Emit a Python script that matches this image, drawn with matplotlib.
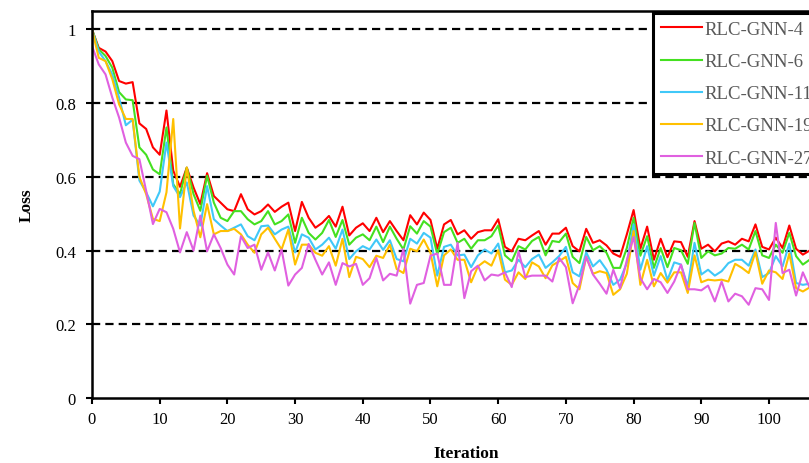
import numpy as np
import matplotlib
matplotlib.use("Agg")
import matplotlib.pyplot as plt

# Loss values, iterations 0..106
rlc_gnn_4 = [1.0, 0.95, 0.94, 0.914, 0.86, 0.853, 0.857, 0.745, 0.73, 0.68,
             0.66, 0.78, 0.617, 0.573, 0.625, 0.571, 0.526, 0.61, 0.548, 0.53,
             0.512, 0.507, 0.553, 0.512, 0.498, 0.507, 0.525, 0.505, 0.519, 0.53,
             0.453, 0.532, 0.489, 0.462, 0.475, 0.494, 0.465, 0.519, 0.441, 0.462,
             0.474, 0.453, 0.489, 0.45, 0.48, 0.453, 0.428, 0.496, 0.471, 0.503,
             0.483, 0.405, 0.471, 0.483, 0.444, 0.455, 0.432, 0.45, 0.455, 0.455,
             0.485, 0.41, 0.398, 0.432, 0.428, 0.441, 0.453, 0.416, 0.446, 0.446,
             0.462, 0.412, 0.398, 0.459, 0.421, 0.428, 0.414, 0.392, 0.383, 0.444,
             0.51, 0.405, 0.465, 0.375, 0.432, 0.382, 0.425, 0.423, 0.383, 0.48,
             0.405, 0.416, 0.398, 0.419, 0.425, 0.416, 0.432, 0.425, 0.471, 0.41,
             0.403, 0.435, 0.407, 0.468, 0.405, 0.389, 0.40]
rlc_gnn_6 = [1.0, 0.946, 0.928, 0.896, 0.83, 0.81, 0.808, 0.68, 0.66, 0.62,
             0.607, 0.734, 0.58, 0.553, 0.625, 0.553, 0.508, 0.603, 0.53, 0.489,
             0.48, 0.507, 0.507, 0.485, 0.471, 0.48, 0.507, 0.471, 0.48, 0.498,
             0.421, 0.489, 0.448, 0.43, 0.448, 0.483, 0.437, 0.483, 0.416, 0.435,
             0.444, 0.428, 0.465, 0.423, 0.465, 0.432, 0.403, 0.466, 0.446, 0.48,
             0.465, 0.39, 0.45, 0.462, 0.421, 0.432, 0.405, 0.428, 0.428, 0.439,
             0.468, 0.387, 0.371, 0.412, 0.403, 0.426, 0.437, 0.387, 0.426, 0.423,
             0.446, 0.383, 0.366, 0.437, 0.401, 0.412, 0.394, 0.353, 0.353, 0.407,
             0.489, 0.386, 0.439, 0.353, 0.407, 0.355, 0.407, 0.401, 0.364, 0.475,
             0.38, 0.398, 0.387, 0.392, 0.407, 0.405, 0.416, 0.403, 0.453, 0.387,
             0.38, 0.416, 0.394, 0.448, 0.385, 0.362, 0.375]
rlc_gnn_11 = [1.0, 0.94, 0.914, 0.878, 0.815, 0.74, 0.755, 0.59, 0.558, 0.52,
              0.56, 0.693, 0.575, 0.545, 0.585, 0.495, 0.468, 0.575, 0.485, 0.468,
              0.453, 0.462, 0.471, 0.439, 0.428, 0.466, 0.468, 0.444, 0.457, 0.465,
              0.395, 0.444, 0.435, 0.403, 0.416, 0.435, 0.405, 0.457, 0.377, 0.398,
              0.412, 0.403, 0.43, 0.402, 0.428, 0.377, 0.371, 0.432, 0.419, 0.448,
              0.435, 0.332, 0.41, 0.416, 0.387, 0.389, 0.355, 0.387, 0.403, 0.392,
              0.419, 0.341, 0.346, 0.375, 0.355, 0.377, 0.389, 0.353, 0.368, 0.385,
              0.41, 0.341, 0.33, 0.395, 0.357, 0.374, 0.348, 0.307, 0.321, 0.366,
              0.471, 0.348, 0.412, 0.332, 0.385, 0.32, 0.368, 0.362, 0.303, 0.421,
              0.335, 0.348, 0.332, 0.344, 0.366, 0.375, 0.375, 0.359, 0.403, 0.328,
              0.339, 0.385, 0.357, 0.419, 0.312, 0.307, 0.31]
rlc_gnn_19 = [1.0, 0.923, 0.914, 0.865, 0.797, 0.757, 0.757, 0.6, 0.553, 0.486,
              0.48, 0.558, 0.757, 0.46, 0.625, 0.508, 0.436, 0.526, 0.444, 0.453,
              0.453, 0.459, 0.444, 0.416, 0.394, 0.444, 0.462, 0.432, 0.403, 0.457,
              0.362, 0.416, 0.416, 0.394, 0.386, 0.412, 0.359, 0.432, 0.328, 0.383,
              0.377, 0.355, 0.386, 0.38, 0.416, 0.35, 0.339, 0.405, 0.398, 0.43,
              0.394, 0.303, 0.387, 0.403, 0.375, 0.375, 0.314, 0.357, 0.371, 0.359,
              0.401, 0.321, 0.307, 0.341, 0.323, 0.368, 0.357, 0.325, 0.36, 0.371,
              0.383, 0.312, 0.295, 0.383, 0.337, 0.344, 0.339, 0.28, 0.295, 0.337,
              0.453, 0.307, 0.375, 0.303, 0.339, 0.313, 0.341, 0.341, 0.285, 0.387,
              0.314, 0.321, 0.319, 0.321, 0.316, 0.364, 0.353, 0.339, 0.396, 0.31,
              0.346, 0.341, 0.323, 0.392, 0.298, 0.289, 0.30]
rlc_gnn_27 = [0.955, 0.905, 0.878, 0.815, 0.761, 0.693, 0.657, 0.648, 0.562, 0.472,
              0.513, 0.504, 0.459, 0.395, 0.45, 0.4, 0.495, 0.398, 0.444, 0.407,
              0.362, 0.335, 0.439, 0.407, 0.416, 0.348, 0.395, 0.346, 0.403, 0.305,
              0.335, 0.353, 0.418, 0.375, 0.335, 0.368, 0.307, 0.366, 0.357, 0.364,
              0.307, 0.325, 0.38, 0.319, 0.337, 0.332, 0.405, 0.256, 0.307, 0.312,
              0.386, 0.392, 0.307, 0.307, 0.421, 0.271, 0.344, 0.359, 0.319, 0.335,
              0.332, 0.341, 0.301, 0.398, 0.328, 0.332, 0.332, 0.332, 0.316, 0.38,
              0.355, 0.257, 0.307, 0.383, 0.335, 0.31, 0.283, 0.348, 0.298, 0.374,
              0.437, 0.325, 0.295, 0.323, 0.314, 0.285, 0.316, 0.362, 0.295, 0.295,
              0.292, 0.305, 0.262, 0.316, 0.262, 0.283, 0.276, 0.253, 0.298, 0.295,
              0.266, 0.475, 0.339, 0.348, 0.278, 0.341, 0.30]

labels = ["RLC-GNN-4", "RLC-GNN-6", "RLC-GNN-11", "RLC-GNN-19", "RLC-GNN-27"]
colors = ["#FF0000", "#44E020", "#40C8F8", "#FFC000", "#E060E0"]
series = [rlc_gnn_4, rlc_gnn_6, rlc_gnn_11, rlc_gnn_19, rlc_gnn_27]
iterations = np.arange(len(rlc_gnn_4))

plt.rcParams["font.family"] = ["Liberation Serif", "DejaVu Serif"]

W, H = 809, 464
fig = plt.figure(figsize=(W / 100, H / 100), dpi=100)
# axes extends past the right edge, the reference is cropped there
x0_px, top_px, y0_px = 92, 12, 399
xmax = 110
ax_w = 6.77 * xmax
ax = fig.add_axes([x0_px / W, 1 - y0_px / H, ax_w / W, (y0_px - top_px) / H])

for yv in [0.2, 0.4, 0.6, 0.8, 1.0]:
    ax.axhline(yv, color="black", lw=1.6, linestyle=(0, (3.7, 2.3)), zorder=1)

for vals, lab, col in zip(series, labels, colors):
    ax.plot(iterations, vals, color=col, lw=1.5, label=lab, zorder=2)

ax.set_xlim(0, xmax)
ax.set_ylim(0, 1.05)
ax.set_xticks(np.arange(0, 101, 10))
ax.set_yticks([0, 0.2, 0.4, 0.6, 0.8, 1.0])
ax.set_yticklabels(["0", "0.2", "0.4", "0.6", "0.8", "1"])
ax.tick_params(axis="both", direction="out", length=4.5, width=1.5, labelsize=12)
ax.tick_params(axis="y", pad=7)
ax.tick_params(axis="x", pad=5)
for sp in ax.spines.values():
    sp.set_linewidth(1.8)

ax.set_xlabel("Iteration", fontsize=12.5, fontweight="bold")
ax.set_ylabel("Loss", fontsize=12.5, fontweight="bold")
ax.xaxis.set_label_coords((466 - x0_px) / ax_w, -(446 - y0_px) / (y0_px - top_px))
ax.yaxis.set_label_coords((35 - x0_px) / ax_w, 0.5)

leg = ax.legend(loc="upper left", bbox_to_anchor=(653 / W, 1 - 14 / H),
                bbox_transform=fig.transFigure, borderaxespad=0,
                fontsize=13.5, handlelength=2.2, handletextpad=0.15,
                labelspacing=0.8, borderpad=0.42, fancybox=False,
                framealpha=1, edgecolor="black")
leg.get_frame().set_linewidth(2.2)
for t in leg.get_texts():
    t.set_color("#595959")

fig.savefig("out.png", dpi=100)
